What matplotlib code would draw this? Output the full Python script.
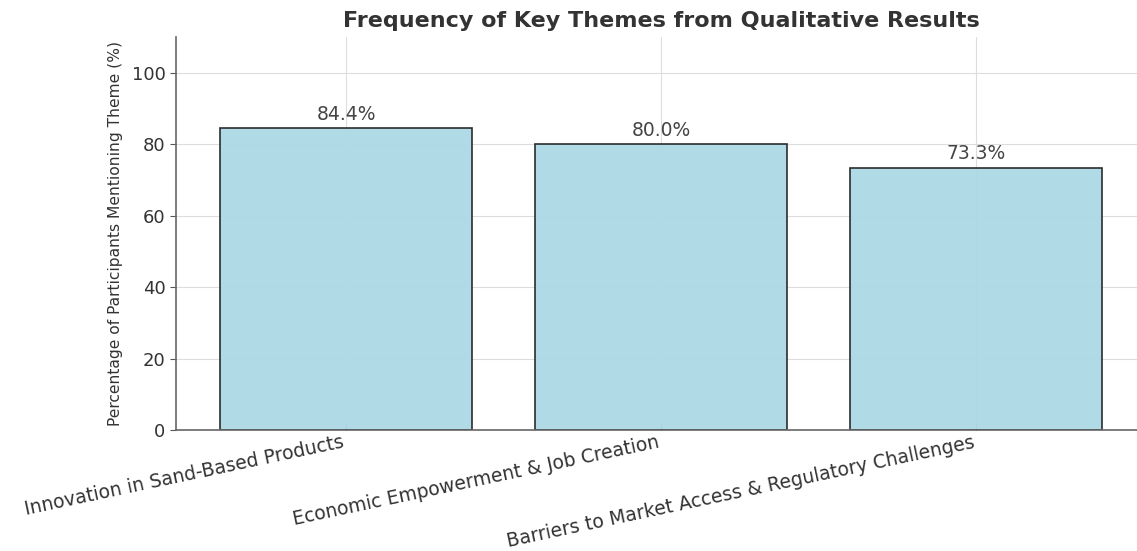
import numpy as np
import matplotlib
matplotlib.use("Agg")
import matplotlib.pyplot as plt

themes = [
    "Innovation in Sand-Based Products",
    "Economic Empowerment & Job Creation",
    "Barriers to Market Access & Regulatory Challenges",
]
percentages = [84.4, 80.0, 73.3]

fig = plt.figure(figsize=(11.37, 5.51), dpi=100)
ax = fig.add_axes([176 / 1137, 121 / 551, (1146 - 176) / 1137, (430 - 37) / 551])

x = np.arange(len(themes))
bars = ax.bar(x, percentages, width=0.8, color="#add8e6", edgecolor="#222222",
              linewidth=1.2, alpha=0.95, zorder=2)

# value labels above each bar
for b, v in zip(bars, percentages):
    ax.text(b.get_x() + b.get_width() / 2, v + 1.3, f"{v:.1f}%",
            ha="center", va="bottom", fontsize=13.5, color="#444444")

ax.set_ylim(0, 110)
ax.set_yticks([0, 20, 40, 60, 80, 100])
ax.set_xticks(x)
ax.set_xticklabels(themes, rotation=12, ha="right", rotation_mode="default",
                   fontsize=13.5, color="#333333")
ax.tick_params(axis="y", labelsize=13, labelcolor="#333333", color="#555555", length=4)
ax.tick_params(axis="x", color="#555555", length=4, direction="in", pad=2)

ax.set_ylabel("Percentage of Participants Mentioning Theme (%)", fontsize=11.2,
              color="#333333", labelpad=6)
ax.set_title("Frequency of Key Themes from Qualitative Results",
             fontsize=16, fontweight="bold", color="#333333", pad=7)

ax.grid(True, color="#dddddd", linewidth=0.8, zorder=0)
ax.set_axisbelow(True)
for side in ["top", "right"]:
    ax.spines[side].set_visible(False)
for side in ["left", "bottom"]:
    ax.spines[side].set_color("#666666")
    ax.spines[side].set_linewidth(1.2)

fig.savefig("out.png", dpi=100)
